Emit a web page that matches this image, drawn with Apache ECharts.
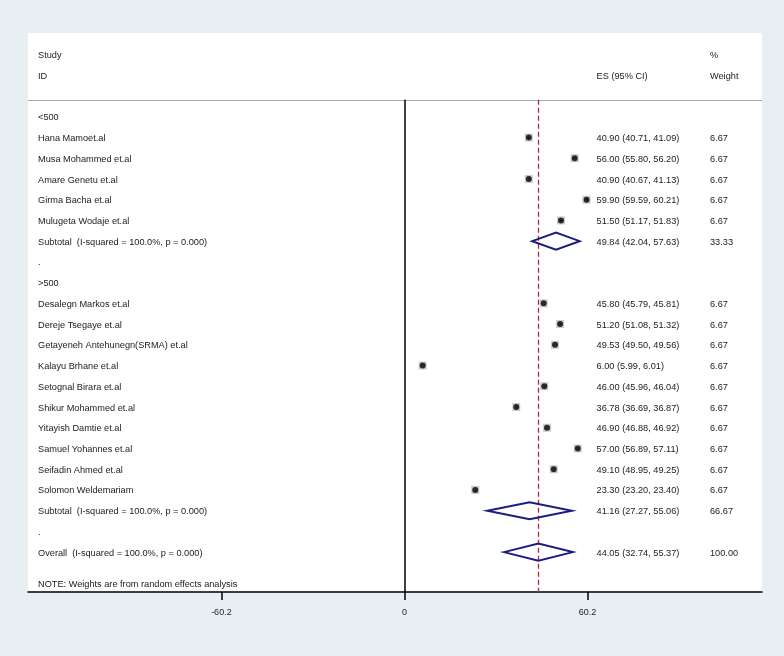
<!DOCTYPE html>
<html>
<head>
<meta charset="utf-8">
<script src="https://cdn.jsdelivr.net/npm/echarts@6/dist/echarts.min.js"></script>
<style>
html,body{margin:0;padding:0;background:#e8eff2;}
#chart{width:784px;height:656px;}
</style>
</head>
<body>
<div id="chart"></div>
<script>
// ---- data ----
const group1Label = '<500';
const group1Studies = ['Hana Mamoet.al','Musa Mohammed et.al','Amare Genetu et.al','Girma Bacha et.al','Mulugeta Wodaje et.al'];
const group1ES = [40.90, 56.00, 40.90, 59.90, 51.50];
const group1Lo = [40.71, 55.80, 40.67, 59.59, 51.17];
const group1Hi = [41.09, 56.20, 41.13, 60.21, 51.83];
const group1W = [6.67, 6.67, 6.67, 6.67, 6.67];
const group1Sub = [49.84, 42.04, 57.63, 33.33]; // es, lo, hi, weight

const group2Label = '>500';
const group2Studies = ['Desalegn Markos et.al','Dereje Tsegaye et.al','Getayeneh Antehunegn(SRMA) et.al','Kalayu Brhane et.al','Setognal Birara et.al','Shikur Mohammed et.al','Yitayish Damtie et.al','Samuel Yohannes et.al','Seifadin Ahmed et.al','Solomon Weldemariam'];
const group2ES = [45.80, 51.20, 49.53, 6.00, 46.00, 36.78, 46.90, 57.00, 49.10, 23.30];
const group2Lo = [45.79, 51.08, 49.50, 5.99, 45.96, 36.69, 46.88, 56.89, 48.95, 23.20];
const group2Hi = [45.81, 51.32, 49.56, 6.01, 46.04, 36.87, 46.92, 57.11, 49.25, 23.40];
const group2W = [6.67, 6.67, 6.67, 6.67, 6.67, 6.67, 6.67, 6.67, 6.67, 6.67];
const group2Sub = [41.16, 27.27, 55.06, 66.67];

const overall = [44.05, 32.74, 55.37, 100.00];
const subtotalText = 'Subtotal  (I-squared = 100.0%, p = 0.000)';
const overallText = 'Overall  (I-squared = 100.0%, p = 0.000)';
const noteText = 'NOTE: Weights are from random effects analysis';
const tickValues = [-60.2, 0, 60.2];

// ---- layout (data units) ----
const X_MIN = -123.8, X_MAX = 117.6;
const COL_LABEL = -120.5, COL_ES = 63.2, COL_W = 100.5;
const Y_MIN = -1.042, Y_MAX = 25.924;
const HEADER_LINE = 2.18;
const DIAMOND_HALF = 0.41;
const FONT = '9.2px "Liberation Sans", Arial, sans-serif';

// ---- build rows ----
const textItems = [];
const points = [];   // [es, row, lo, hi]
const diamonds = []; // [lo, es, hi, row]
function fmt(v){ return v.toFixed(2); }
function esText(e,l,h){ return fmt(e)+' ('+fmt(l)+', '+fmt(h)+')'; }

textItems.push({x:COL_LABEL,k:0,t:'Study'});
textItems.push({x:COL_LABEL,k:1,t:'ID'});
textItems.push({x:COL_ES,k:1,t:'ES (95% CI)'});
textItems.push({x:COL_W,k:0,t:'%'});
textItems.push({x:COL_W,k:1,t:'Weight'});

let row = 3;
function addGroup(label, studies, es, lo, hi, w, sub){
  textItems.push({x:COL_LABEL,k:row,t:label}); row++;
  for(let i=0;i<studies.length;i++){
    textItems.push({x:COL_LABEL,k:row,t:studies[i]});
    textItems.push({x:COL_ES,k:row,t:esText(es[i],lo[i],hi[i])});
    textItems.push({x:COL_W,k:row,t:fmt(w[i])});
    points.push([es[i], row, lo[i], hi[i]]);
    row++;
  }
  textItems.push({x:COL_LABEL,k:row,t:subtotalText});
  textItems.push({x:COL_ES,k:row,t:esText(sub[0],sub[1],sub[2])});
  textItems.push({x:COL_W,k:row,t:fmt(sub[3])});
  diamonds.push([sub[1], sub[0], sub[2], row]);
  row++;
  textItems.push({x:COL_LABEL,k:row,t:'.'}); row++;
}
addGroup(group1Label, group1Studies, group1ES, group1Lo, group1Hi, group1W, group1Sub);
addGroup(group2Label, group2Studies, group2ES, group2Lo, group2Hi, group2W, group2Sub);
textItems.push({x:COL_LABEL,k:row,t:overallText});
textItems.push({x:COL_ES,k:row,t:esText(overall[0],overall[1],overall[2])});
textItems.push({x:COL_W,k:row,t:fmt(overall[3])});
diamonds.push([overall[1], overall[0], overall[2], row]);
textItems.push({x:COL_LABEL,k:25.5,t:noteText});

const chart = echarts.init(document.getElementById('chart'), null, {renderer:'canvas'});
chart.setOption({
  backgroundColor:'#e8eff2',
  animation:false,
  grid:{left:28,right:22,top:33,bottom:64,show:true,backgroundColor:'#ffffff',borderWidth:0},
  xAxis:{
    type:'value', min:X_MIN, max:X_MAX,
    splitLine:{show:false},
    axisLine:{show:true,onZero:false,lineStyle:{color:'#000',width:1.5}},
    axisTick:{show:true,customValues:tickValues,length:8,lineStyle:{color:'#000',width:1.5}},
    axisLabel:{customValues:tickValues,color:'#222',fontSize:9,fontFamily:'"Liberation Sans", Arial, sans-serif',margin:16,
      formatter:function(v){return String(v);}}
  },
  yAxis:{type:'value',inverse:true,min:Y_MIN,max:Y_MAX,show:false,splitLine:{show:false}},
  series:[
    {
      type:'line', data:[], silent:true,
      markLine:{symbol:'none',silent:true,label:{show:false},
        data:[
          [{coord:[X_MIN,HEADER_LINE],lineStyle:{color:'#a8a8a8',width:1,type:'solid'}},{coord:[X_MAX,HEADER_LINE]}],
          [{coord:[0,HEADER_LINE],lineStyle:{color:'#000',width:1.5,type:'solid'}},{coord:[0,Y_MAX]}],
          [{coord:[overall[0],HEADER_LINE],lineStyle:{color:'#b8233c',width:1.3,type:[5,3]}},{coord:[overall[0],Y_MAX]}]
        ]}
    },
    {
      type:'scatter', symbol:'rect', symbolSize:8, silent:true,
      itemStyle:{color:'#bdbdbd'}, data:points.map(p=>[p[0],p[1]]), z:3
    },
    {
      type:'custom', silent:true, z:4, clip:false,
      data:points.map(p=>[p[2],p[1],p[3]]),
      renderItem:function(params,api){
        const a=api.coord([api.value(0),api.value(1)]);
        const b=api.coord([api.value(2),api.value(1)]);
        return {type:'line',shape:{x1:a[0],y1:a[1],x2:b[0],y2:b[1]},style:{stroke:'#000',lineWidth:1}};
      }
    },
    {
      type:'scatter', symbol:'circle', symbolSize:6, silent:true,
      itemStyle:{color:'#000'}, data:points.map(p=>[p[0],p[1]]), z:5
    },
    {
      type:'custom', silent:true, z:5, clip:false,
      data:diamonds,
      renderItem:function(params,api){
        const lo=api.value(0), es=api.value(1), hi=api.value(2), k=api.value(3);
        const pts=[api.coord([lo,k]),api.coord([es,k-DIAMOND_HALF]),api.coord([hi,k]),api.coord([es,k+DIAMOND_HALF])];
        return {type:'polygon',shape:{points:pts},style:{fill:'none',stroke:'#1c1c7e',lineWidth:2}};
      }
    },
    {
      type:'custom', silent:true, z:6, clip:false,
      data:textItems.map(t=>[t.x,t.k]),
      renderItem:function(params,api){
        const t=textItems[params.dataIndex];
        const p=api.coord([api.value(0),api.value(1)]);
        return {type:'text',x:p[0],y:p[1]+1,style:{text:t.t,fill:'#1a1a1a',font:FONT,align:'left',verticalAlign:'middle'}};
      }
    }
  ]
});
</script>
</body>
</html>
